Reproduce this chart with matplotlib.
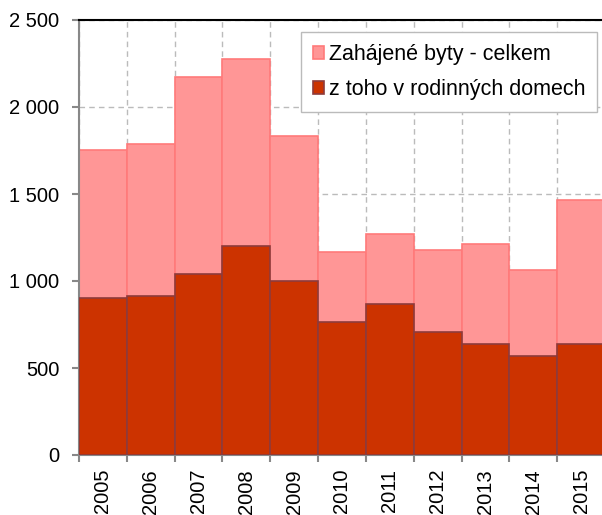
import numpy as np
import matplotlib.pyplot as plt
from matplotlib.ticker import FuncFormatter

plt.rcParams['font.family'] = ['Liberation Sans', 'DejaVu Sans']

years = ["2005", "2006", "2007", "2008", "2009", "2010",
         "2011", "2012", "2013", "2014", "2015"]
total = [1755, 1790, 2170, 2275, 1835, 1167, 1270, 1178, 1213, 1063, 1466]
family = [902, 914, 1040, 1201, 1000, 764, 868, 707, 638, 570, 638]

fig = plt.figure(figsize=(6.02, 5.15), dpi=100)
ax = fig.add_axes([79 / 602, 60 / 515, 526 / 602, 435 / 515])

x = np.arange(len(years))
ax.bar(x, total, width=1.0, color="#FF9696", edgecolor="#FF7A7A",
       linewidth=1.2, label="Zahájené byty - celkem", zorder=2)
ax.bar(x, family, width=1.0, color="#CC3300", edgecolor="#8E3B3B",
       linewidth=1.2, label="z toho v rodinných domech", zorder=3)

ax.set_xlim(-0.5, len(years) - 0.5)
ax.set_ylim(0, 2500)
ax.set_yticks(np.arange(0, 2501, 500))
ax.yaxis.set_major_formatter(FuncFormatter(lambda v, p: f"{int(v):,}".replace(",", " ")))

ax.set_xticks(x)
ax.set_xticklabels(years, rotation=90)
ax.set_xticks(np.arange(-0.5, len(years)), minor=True)
ax.tick_params(axis="x", which="major", length=0, pad=10, labelsize=14.5)
ax.tick_params(axis="x", which="minor", length=5, color="#888888", width=1.5)
ax.tick_params(axis="y", length=5, color="#888888", width=1.5, labelsize=14.5, pad=9)

ax.grid(axis="y", which="major", color="#BBBBBB", linestyle=(0, (4, 3)), linewidth=1, zorder=0)
ax.grid(axis="x", which="minor", color="#BBBBBB", linestyle=(0, (4, 3)), linewidth=1, zorder=0)
ax.set_axisbelow(True)

ax.spines["right"].set_visible(False)
ax.spines["top"].set_color("black")
ax.spines["top"].set_linewidth(1.5)
for s in ["left", "bottom"]:
    ax.spines[s].set_color("#888888")
    ax.spines[s].set_linewidth(1.5)

leg = ax.legend(loc="upper right", bbox_to_anchor=(597 / 602, 1 - 32 / 515),
                bbox_transform=fig.transFigure,
                fontsize=15.5, frameon=True, fancybox=False, handlelength=0.55,
                handleheight=0.55, handletextpad=0.2, borderpad=0.55,
                labelspacing=0.65, borderaxespad=0, framealpha=1)
leg.get_frame().set_edgecolor("#BBBBBB")
leg.get_frame().set_linewidth(1)

plt.savefig("out.png", dpi=100)
